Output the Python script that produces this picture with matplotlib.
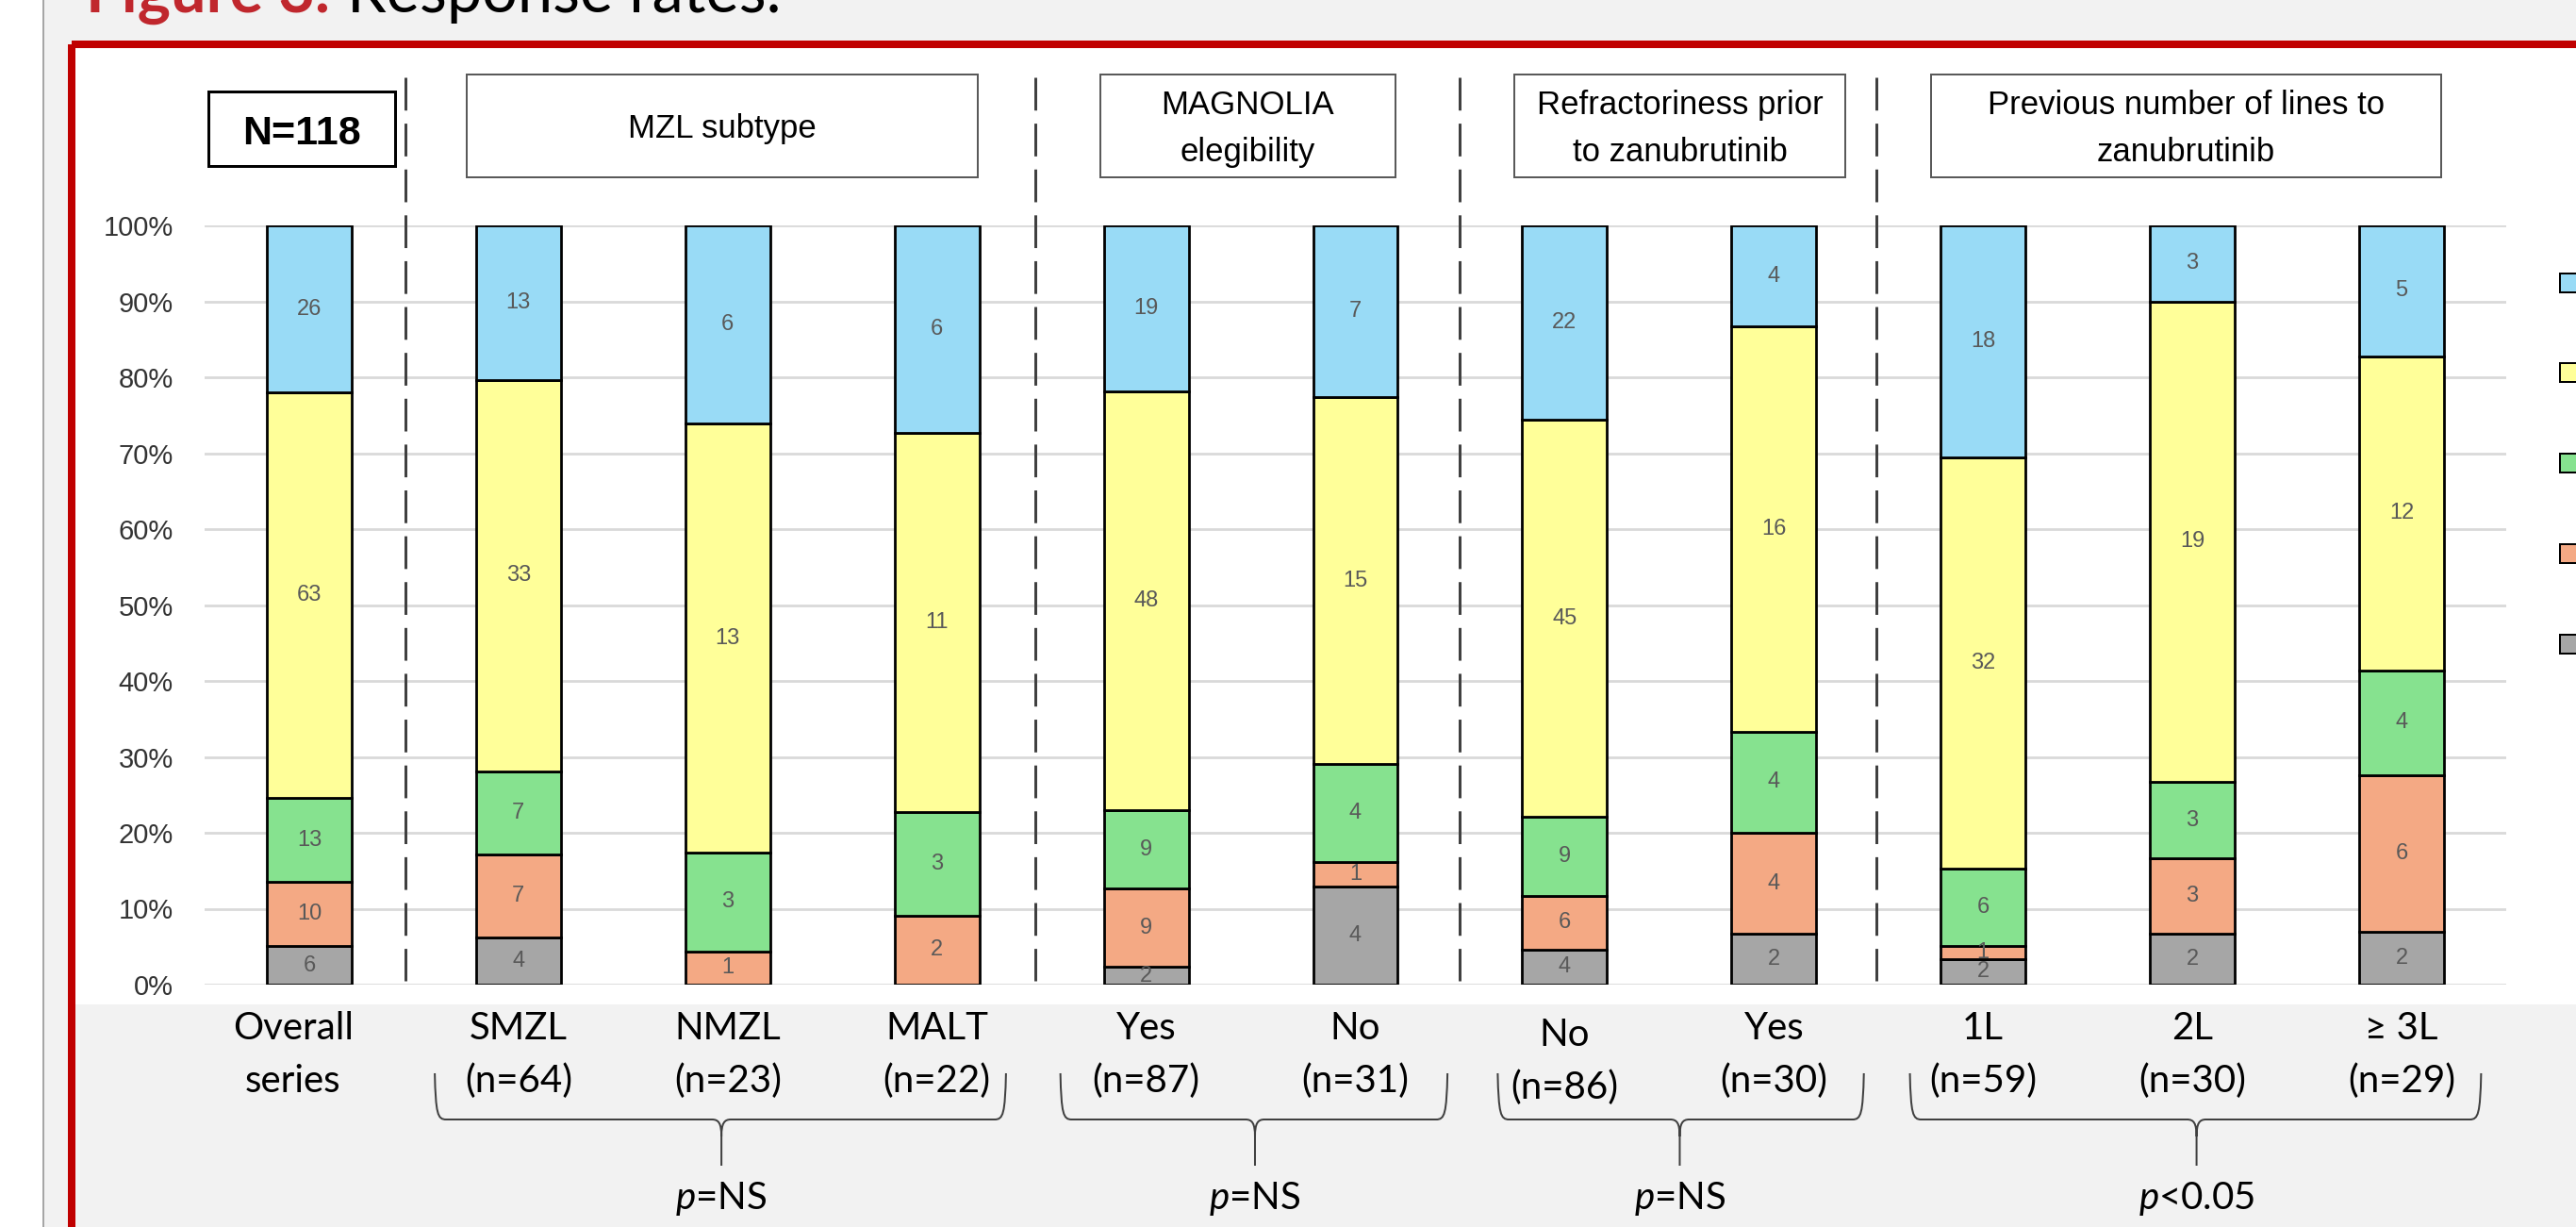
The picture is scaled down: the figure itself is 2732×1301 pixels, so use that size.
import numpy as np
import matplotlib
matplotlib.use('Agg')
import matplotlib.pyplot as plt
from matplotlib.patches import Rectangle, PathPatch
from matplotlib.path import Path
from matplotlib.transforms import blended_transform_factory

plt.rcParams['lines.scale_dashes'] = False
plt.rcParams['mathtext.fontset'] = 'custom'
plt.rcParams['mathtext.it'] = 'Lato:italic'
plt.rcParams['mathtext.rm'] = 'Lato'

# ---- data ----
categories = ['Overall', 'SMZL', 'NMZL', 'MALT', 'Yes', 'No', 'No', 'Yes', '1L', '2L', '≥ 3L']
subtitles = ['series', '(n=64)', '(n=23)', '(n=22)', '(n=87)', '(n=31)',
             '(n=86)', '(n=30)', '(n=59)', '(n=30)', '(n=29)']
# counts, stacked bottom -> top
gray_n = [6, 4, 0, 0, 2, 4, 4, 2, 2, 2, 2]
salmon_n = [10, 7, 1, 2, 9, 1, 6, 4, 1, 3, 6]
green_n = [13, 7, 3, 3, 9, 4, 9, 4, 6, 3, 4]
yellow_n = [63, 33, 13, 11, 48, 15, 45, 16, 32, 19, 12]
blue_n = [26, 13, 6, 6, 19, 7, 22, 4, 18, 3, 5]
series_colors = ['#a6a6a6', '#f4a984', '#86e28f', '#ffff99', '#99dbf6']

header_text = ['N=118', 'MZL subtype', 'MAGNOLIA\nelegibility',
               'Refractoriness prior\nto zanubrutinib',
               'Previous number of lines to\nzanubrutinib']
p_text = ['$p$=NS', '$p$=NS', '$p$=NS', '$p$<0.05']

# ---- layout (data x units / pixels) ----
header_span = [(-0.48, 0.41), (0.755, 3.195), (3.78, 5.19), (5.76, 7.34), (7.75, 10.19)]
sep_x = [0.46, 3.47, 5.5, 7.49]
brace_span = [(0.60, 3.33), (3.59, 5.44), (5.68, 7.43), (7.65, 10.38)]
brace_mid = [1.97, 4.52, 6.55, 9.02]
label_dx = [-17, 0, 0, 0, 0, 0, 0, 0, 0, 0, 0]
label_dy = [0, 0, 0, 0, 0, 0, 7, 0, 0, 0, 0]

W, H = 2732, 1301
PT = 0.72  # px -> pt at dpi 100

fig = plt.figure(figsize=(W / 100, H / 100), dpi=100, facecolor='#f2f2f2')

# background / decoration axes in pixel coords (y down)
bg = fig.add_axes([0, 0, 1, 1], zorder=-1)
bg.set_xlim(0, W)
bg.set_ylim(H, 0)
bg.axis('off')

bg.add_patch(Rectangle((0, 0), 46, H, facecolor='white', edgecolor='none'))
bg.add_patch(Rectangle((79, 51), W, 1065 - 51, facecolor='white', edgecolor='none'))
bg.add_patch(Rectangle((75.5, 47), W, H, facecolor='none', edgecolor='#c00000', lw=8 * PT))
bg.plot([46, 46], [0, H], color='#a6a6a6', lw=2 * PT)

# title (cut off at top)
bg.text(350, 13, 'Figure 3.', ha='right', va='baseline', fontsize=48,
        fontweight='bold', color='#c0272d', family='Lato')
bg.text(368, 13, 'Response rates.', ha='left', va='baseline', fontsize=48,
        color='black', family='Lato')

# main axes
ax = fig.add_axes([217 / W, (H - 1044) / H, (2658 - 217) / W, (1044 - 239) / H], zorder=1)
ax.set_facecolor('none')

x = np.arange(len(categories))
stack = [gray_n, salmon_n, green_n, yellow_n, blue_n]
totals = np.sum(stack, axis=0)
bottom = np.zeros(len(categories))
for counts, col in zip(stack, series_colors):
    frac = np.array(counts) / totals
    ax.bar(x, frac, width=0.405, bottom=bottom, color=col, edgecolor='black',
           linewidth=2.0, zorder=3)
    for xi, f, b, c in zip(x, frac, bottom, counts):
        if c > 0:
            ax.text(xi, b + f / 2, str(c), ha='center', va='center', fontsize=17,
                    color='#595959', family='Liberation Sans', zorder=4)
    bottom += frac

ax.set_xlim(-0.5, 10.5)
ax.set_ylim(0, 1)
ax.set_yticks(np.arange(0, 1.01, 0.1))
ax.set_yticklabels([f'{int(round(v * 100))}%' for v in np.arange(0, 1.01, 0.1)],
                   fontsize=21, color='#333333', family='Liberation Sans')
ax.tick_params(axis='y', length=0, pad=24)
ax.set_xticks([])
ax.yaxis.grid(True, color='#d9d9d9', lw=2.0, zorder=0)
ax.set_axisbelow(True)
for s in ax.spines.values():
    s.set_visible(False)

# dashed group separators
tr = blended_transform_factory(ax.transData, bg.transData)
for sx in sep_x:
    ln, = ax.plot([sx, sx], [82, 1040], transform=tr, color='#404040', lw=3 * PT,
                  clip_on=False, zorder=5)
    ln.set_dashes((25, 10))


def xpix(v):
    return ax.transData.transform((v, 0))[0]


# group header boxes
for i, (txt, (a, b)) in enumerate(zip(header_text, header_span)):
    x0, x1 = xpix(a), xpix(b)
    xc = (x0 + x1) / 2
    if i == 0:
        bg.add_patch(Rectangle((x0, 97), x1 - x0, 79, facecolor='white',
                               edgecolor='black', lw=3 * PT))
        bg.text(xc, 153, txt, ha='center', va='baseline', fontsize=31,
                fontweight='bold', family='Liberation Sans')
        continue
    bg.add_patch(Rectangle((x0, 79), x1 - x0, 109, facecolor='white',
                           edgecolor='#595959', lw=2 * PT))
    lines = txt.split('\n')
    base = [146] if len(lines) == 1 else [121, 171]
    for ln_txt, yb in zip(lines, base):
        bg.text(xc, yb, ln_txt, ha='center', va='baseline', fontsize=25,
                family='Liberation Sans')

# category labels under the bars
for xi, c1, c2, dx, dy in zip(x, categories, subtitles, label_dx, label_dy):
    px = xpix(xi) + dx
    bg.text(px, 1102 + dy, c1, ha='center', va='baseline', fontsize=29,
            family=['Lato', 'DejaVu Sans'])
    bg.text(px, 1158 + dy, c2, ha='center', va='baseline', fontsize=29,
            family=['Lato', 'DejaVu Sans'])

# braces and p-values
ytop, yh, ybot = 1138, 1187, 1236
for (a, b), m, pt in zip(brace_span, brace_mid, p_text):
    xl, xr, xc = xpix(a), xpix(b), xpix(m)
    verts = [(xl, ytop), (xl + 1, yh - 6), (xl + 3, yh), (xl + 12, yh),
             (xc - 10, yh), (xc - 3, yh), (xc, yh + 4), (xc, yh + 18), (xc, ybot),
             (xr, ytop), (xr - 1, yh - 6), (xr - 3, yh), (xr - 12, yh),
             (xc + 10, yh), (xc + 3, yh), (xc, yh + 4), (xc, yh + 18)]
    codes = [Path.MOVETO, Path.CURVE4, Path.CURVE4, Path.CURVE4,
             Path.LINETO, Path.CURVE4, Path.CURVE4, Path.CURVE4, Path.LINETO,
             Path.MOVETO, Path.CURVE4, Path.CURVE4, Path.CURVE4,
             Path.LINETO, Path.CURVE4, Path.CURVE4, Path.CURVE4]
    bg.add_patch(PathPatch(Path(verts, codes), facecolor='none',
                           edgecolor='#404040', lw=2 * PT))
    bg.text(xc, 1282, pt, ha='center', va='baseline', fontsize=29, family='Lato')

# legend keys (labels fall outside the crop)
for col, yc in zip(series_colors[::-1], [300, 395, 491, 587, 683]):
    bg.add_patch(Rectangle((2715, yc - 10), 30, 20, facecolor=col,
                           edgecolor='black', lw=2 * PT))

fig.savefig('out.png', dpi=100, facecolor=fig.get_facecolor())
